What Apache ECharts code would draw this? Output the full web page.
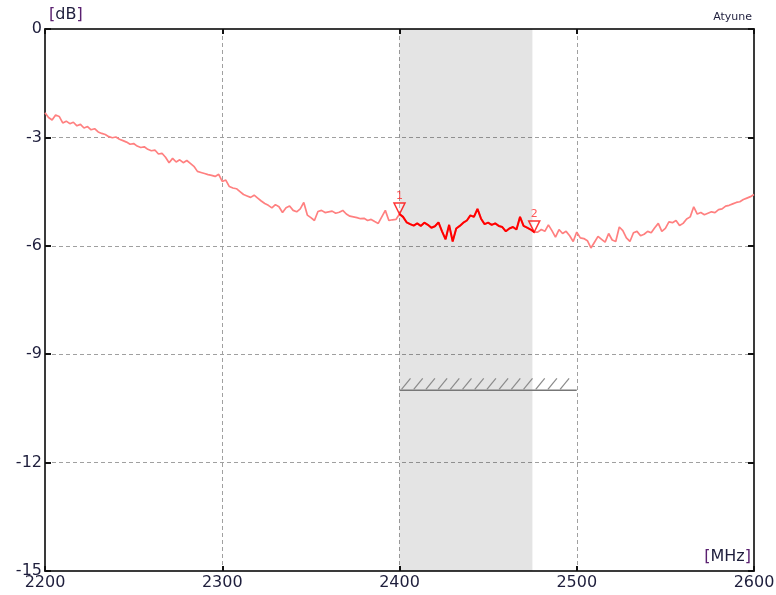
<!DOCTYPE html>
<html>
<head>
<meta charset="utf-8">
<script src="https://cdn.jsdelivr.net/npm/echarts@6/dist/echarts.min.js"></script>
<style>
html,body{margin:0;padding:0;background:#fff;}
#chart{width:776px;height:595px;}
</style>
</head>
<body>
<div id="chart"></div>
<script>
// ---- data ----
var startFreq = 2200;   // MHz
var stepFreq = 2;       // MHz
var traceDb = [
-2.32,-2.45,-2.52,-2.38,-2.42,-2.60,-2.55,-2.62,-2.58,-2.68,
-2.64,-2.74,-2.70,-2.79,-2.76,-2.85,-2.89,-2.92,-2.98,-3.01,
-2.99,-3.05,-3.09,-3.13,-3.19,-3.17,-3.24,-3.28,-3.26,-3.33,
-3.37,-3.35,-3.46,-3.44,-3.55,-3.70,-3.58,-3.68,-3.62,-3.70,
-3.64,-3.72,-3.80,-3.94,-3.97,-4.00,-4.03,-4.05,-4.08,-4.02,
-4.22,-4.18,-4.36,-4.40,-4.42,-4.50,-4.58,-4.62,-4.66,-4.60,
-4.68,-4.76,-4.83,-4.88,-4.95,-4.86,-4.92,-5.08,-4.95,-4.90,
-5.02,-5.06,-4.98,-4.80,-5.15,-5.22,-5.30,-5.05,-5.02,-5.08,
-5.06,-5.04,-5.10,-5.07,-5.02,-5.12,-5.18,-5.20,-5.22,-5.25,
-5.24,-5.30,-5.27,-5.33,-5.38,-5.20,-5.02,-5.30,-5.28,-5.27,
-5.12,-5.20,-5.35,-5.40,-5.44,-5.38,-5.45,-5.36,-5.42,-5.50,
-5.46,-5.35,-5.60,-5.82,-5.42,-5.88,-5.52,-5.45,-5.36,-5.30,
-5.16,-5.20,-4.98,-5.25,-5.40,-5.36,-5.42,-5.38,-5.45,-5.48,
-5.60,-5.52,-5.48,-5.55,-5.20,-5.45,-5.50,-5.55,-5.62,-5.62,
-5.55,-5.60,-5.42,-5.58,-5.76,-5.55,-5.66,-5.60,-5.72,-5.88,
-5.62,-5.78,-5.80,-5.86,-6.06,-5.90,-5.74,-5.82,-5.90,-5.66,
-5.84,-5.88,-5.48,-5.58,-5.78,-5.88,-5.64,-5.60,-5.72,-5.68,
-5.60,-5.64,-5.50,-5.38,-5.60,-5.52,-5.34,-5.36,-5.30,-5.44,
-5.38,-5.26,-5.20,-4.92,-5.12,-5.08,-5.14,-5.10,-5.06,-5.08,
-5.00,-4.98,-4.90,-4.88,-4.84,-4.80,-4.78,-4.72,-4.68,-4.64,
-4.58
];
var bandStart = 2400, bandEnd = 2475;          // shaded band (MHz)
var limitStart = 2400, limitEnd = 2500, limitDb = -10; // hatched limit
var markerFreqs = [2400, 2476];
var markerNames = ['1', '2'];
var xMin = 2200, xMax = 2600, xStep = 100;
var yMin = -15, yMax = 0, yStep = 3;

// ---- build series data ----
var trace = traceDb.map(function (v, i) { return [startFreq + i * stepFreq, v]; });
var inBand = trace.filter(function (p) { return p[0] >= bandStart && p[0] <= bandEnd + 1; });
var markers = markerFreqs.map(function (f, i) {
  var idx = Math.round((f - startFreq) / stepFreq);
  return { value: [f, traceDb[idx]], name: markerNames[i] };
});

var FONT = 'DejaVu Sans';
var txt = '#1e1e3c';
var axisCol = '#3a3a3a';

var chart = echarts.init(document.getElementById('chart'), null, { renderer: 'canvas' });
chart.setOption({
  animation: false,
  backgroundColor: '#fff',
  grid: { left: 45, right: 22, top: 29, bottom: 24, containLabel: false, outerBoundsMode: 'none' },
  graphic: [
    { type: 'text', left: 49, top: 7, style: {
        text: '{b|[}{t|dB}{b|]}', font: '16px ' + FONT,
        rich: { b: { fill: '#5a2070', fontSize: 16, fontFamily: FONT }, t: { fill: txt, fontSize: 16, fontFamily: FONT } } } },
    { type: 'text', right: 24, top: 12, style: { text: 'Atyune', fill: txt, font: '11px ' + FONT } },
    { type: 'text', right: 25, top: 549, style: {
        text: '{b|[}{t|MHz}{b|]}', font: '16px ' + FONT,
        rich: { b: { fill: '#5a2070', fontSize: 16, fontFamily: FONT }, t: { fill: txt, fontSize: 16, fontFamily: FONT } } } }
  ],
  xAxis: [{
    type: 'value', min: xMin, max: xMax, interval: xStep, position: 'bottom',
    axisLine: { show: true, onZero: false, lineStyle: { color: axisCol, width: 2 } },
    axisTick: { show: true, inside: true, length: 5, lineStyle: { color: '#111', width: 2 } },
    axisLabel: { color: txt, fontFamily: FONT, fontSize: 16, margin: 4, formatter: function (v) { return String(v); } },
    splitLine: { show: true, lineStyle: { color: '#a0a0a0', type: [4, 3], width: 1 } }
  }, {
    type: 'value', min: xMin, max: xMax, interval: xStep, position: 'top',
    axisLine: { show: true, onZero: false, lineStyle: { color: axisCol, width: 2 } },
    axisTick: { show: true, inside: true, length: 5, lineStyle: { color: '#111', width: 2 } },
    axisLabel: { show: false }, splitLine: { show: false }
  }],
  yAxis: [{
    type: 'value', min: yMin, max: yMax, interval: yStep, position: 'left',
    axisLine: { show: true, onZero: false, lineStyle: { color: axisCol, width: 2 } },
    axisTick: { show: true, inside: true, length: 6, lineStyle: { color: '#111', width: 2 } },
    axisLabel: { color: txt, fontFamily: FONT, fontSize: 16, margin: 3, formatter: function (v) { return String(v); } },
    splitLine: { show: true, lineStyle: { color: '#a0a0a0', type: [4, 3], width: 1 } }
  }, {
    type: 'value', min: yMin, max: yMax, interval: yStep, position: 'right',
    axisLine: { show: true, onZero: false, lineStyle: { color: axisCol, width: 2 } },
    axisTick: { show: true, inside: true, length: 6, lineStyle: { color: '#111', width: 2 } },
    axisLabel: { show: false }, splitLine: { show: false }
  }],
  series: [
    { type: 'line', data: [], z: 1, silent: true,
      markArea: { silent: true, itemStyle: { color: 'rgba(0,0,0,0.105)' },
        data: [[{ xAxis: bandStart }, { xAxis: bandEnd }]] } },
    { type: 'custom', z: 3, silent: true, coordinateSystem: 'cartesian2d',
      data: [[limitStart, limitEnd, limitDb]],
      renderItem: function (params, api) {
        var a = api.coord([api.value(0), api.value(2)]);
        var b = api.coord([api.value(1), api.value(2)]);
        var kids = [{ type: 'line', shape: { x1: a[0], y1: a[1], x2: b[0], y2: b[1] },
          style: { stroke: '#777', lineWidth: 1.5 } }];
        for (var x = a[0] + 2; x + 9 <= b[0] + 1; x += 12.2) {
          kids.push({ type: 'line', shape: { x1: x, y1: a[1] - 1, x2: x + 9, y2: a[1] - 12 },
            style: { stroke: '#8a8a8a', lineWidth: 1.2 } });
        }
        return { type: 'group', children: kids };
      } },
    { type: 'line', data: trace, z: 4, symbol: 'none', silent: true,
      lineStyle: { color: '#ff8080', width: 1.7 } },
    { type: 'line', data: inBand, z: 5, symbol: 'none', silent: true,
      lineStyle: { color: '#ff0000', width: 2 } },
    { type: 'scatter', data: markers, z: 6, silent: true,
      symbol: 'path://M0,0 L10,0 L5,10 Z', symbolSize: [11, 11], symbolOffset: [0, '-50%'],
      itemStyle: { color: 'rgba(255,255,255,0.4)', borderColor: '#ff0000', borderWidth: 1.5 },
      label: { show: true, position: 'top', distance: 1, formatter: '{b}',
        color: '#ff3030', fontFamily: FONT, fontSize: 11 } }
  ]
});
</script>
</body>
</html>
